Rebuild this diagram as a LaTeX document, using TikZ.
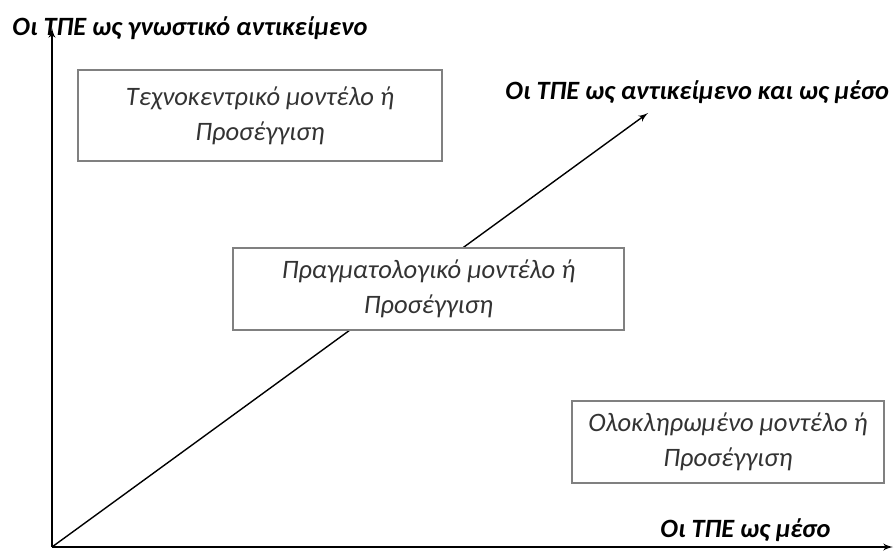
\documentclass[tikz,border=0pt]{standalone}
\usepackage{fontspec}
\setmainfont{Carlito}
\usetikzlibrary{shapes,arrows}
\tikzstyle{block} = [rectangle, draw=gray, line width=0.6pt, fill=white, align=center, text=black!80, font=\itshape\fontsize{13.3}{17.5}\selectfont]
\tikzstyle{axislabel} = [anchor=west, inner sep=0pt, font=\bfseries\itshape\fontsize{13.2}{15}\selectfont]
\tikzstyle{arrow} = [draw, -latex', line width=0.7pt]

\begin{document}
\begin{tikzpicture}[x=0.5pt, y=-0.5pt]
\useasboundingbox (0,0) rectangle (895,551);
%% axes
\coordinate (origin) at (52,547);
\coordinate (ytip) at (52,28);
\coordinate (xtip) at (893,547);
\coordinate (dtip) at (648,113);

\path [arrow] (origin) to (ytip);
\path [arrow] (origin) to (xtip);
\path [arrow] (origin) to (dtip);

\node [axislabel] at (12,28) (ylabel) {Οι ΤΠΕ ως γνωστικό αντικείμενο};
\node [axislabel] at (505,92) (dlabel) {Οι ΤΠΕ ως αντικείμενο και ως μέσο};
\node [axislabel] at (660,530) (xlabel) {Οι ΤΠΕ ως μέσο};

%% models
\node [block, minimum width=182pt, minimum height=45.5pt] at (260,115.5) (techno) {Τεχνοκεντρικό μοντέλο ή\\Προσέγγιση};
\node [block, minimum width=195.5pt, minimum height=41pt] at (428.5,289) (pragma) {Πραγματολογικό μοντέλο ή\\Προσέγγιση};
\node [block, minimum width=156pt, minimum height=41pt] at (728,442) (integr) {Ολοκληρωμένο μοντέλο ή\\Προσέγγιση};
\end{tikzpicture}
\end{document}
